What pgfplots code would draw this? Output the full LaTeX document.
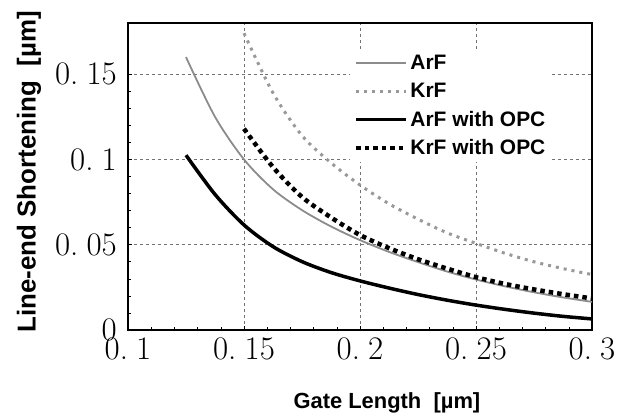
\documentclass[border=0pt]{standalone}
\usepackage{pgfplots}
\pgfplotsset{compat=1.18}
\usepackage{fontspec}
\newfontfamily\labfont{Liberation Sans}
\newfontfamily\tickfont{Latin Modern Roman}
\newcommand{\tl}[2]{\mbox{\tickfont\fontsize{33}{33}\selectfont #1.\hspace{0.25em}#2}}
\pgfplotstableread{
x y
0.125 0.160
0.1375 0.125
0.15 0.100
0.1625 0.0825
0.175 0.0703
0.1875 0.0607
0.2 0.0527
0.2125 0.0458
0.225 0.0398
0.2375 0.0343
0.25 0.0296
0.2625 0.0256
0.275 0.0221
0.2875 0.0191
0.3 0.0165
}\arf
\pgfplotstableread{
x y
0.15 0.174
0.1625 0.139
0.175 0.114
0.1875 0.098
0.2 0.085
0.2125 0.074
0.225 0.065
0.2375 0.057
0.25 0.0508
0.2625 0.045
0.275 0.040
0.2875 0.036
0.3 0.0325
}\krf
\pgfplotstableread{
x y
0.125 0.1025
0.1375 0.0795
0.15 0.0616
0.1625 0.0489
0.175 0.0401
0.1875 0.0337
0.2 0.0288
0.2125 0.0246
0.225 0.0208
0.2375 0.0175
0.25 0.0146
0.2625 0.0121
0.275 0.0099
0.2875 0.0080
0.3 0.0065
}\arfopc
\pgfplotstableread{
x y
0.15 0.118
0.1625 0.0955
0.175 0.078
0.1875 0.066
0.2 0.0557
0.2125 0.048
0.225 0.0415
0.2375 0.036
0.25 0.031
0.2625 0.027
0.275 0.0238
0.2875 0.021
0.3 0.0185
}\krfopc
\begin{document}
\begin{tikzpicture}[x=1bp,y=1bp]
\path[use as bounding box] (0,0) rectangle (622,413);
\begin{axis}[
 at={(128bp,83bp)}, anchor=south west,
 width=464bp, height=307bp, scale only axis,
 xmin=0.1, xmax=0.3, ymin=0, ymax=0.18,
 xtick={0.1,0.15,0.2,0.25,0.3},
 xticklabels={\tl{0}{1},\tl{0}{15},\tl{0}{2},\tl{0}{25},\tl{0}{3}},
 ytick={0,0.05,0.1,0.15},
 yticklabels={\mbox{\tickfont\fontsize{33}{33}\selectfont 0},\tl{0}{05},\tl{0}{1},\tl{0}{15}},
 minor x tick num=4, minor y tick num=4,
 tick pos=left, tick align=inside,
 major tick length=4bp, minor tick length=3bp,
 tick style={black, line width=0.6pt},
 xticklabel style={inner sep=2bp, yshift=-6bp},
 yticklabel style={inner sep=2bp, xshift=-9bp},
 grid=major, major grid style={black!55, dashed, line width=0.5pt},
 axis line style={line width=1.2pt},
 xlabel={Gate Length\ \ [µm]},
 ylabel={Line-end Shortening\ \ [µm]},
 xlabel style={font=\labfont\bfseries\fontsize{22}{22}\selectfont, at={(axis description cs:0.558,-0.236)}, anchor=center},
 ylabel style={font=\labfont\bfseries\fontsize{26}{26}\selectfont, at={(axis description cs:-0.2134,0.515)}, anchor=center},
 legend image code/.code={\draw[#1] (0bp,0bp) -- (50bp,0bp);},
 legend style={at={(axis description cs:0.478,0.915)}, anchor=north west, draw=none, fill=white,
   font=\labfont\bfseries\fontsize{21}{21}\selectfont, inner sep=4bp, row sep=8bp,
   nodes={inner sep=2bp}, /tikz/every even column/.append style={column sep=0bp}},
 legend cell align=left,
]
\addplot[black!45, line width=1.8bp, smooth] table[x=x,y=y]{\arf};
\addlegendentry{ArF}
\addplot[black!40, line width=3bp, dash pattern=on 3bp off 5bp, smooth] table[x=x,y=y]{\krf};
\addlegendentry{KrF}
\addplot[black, line width=3.5bp, smooth] table[x=x,y=y]{\arfopc};
\addlegendentry{ArF with OPC}
\addplot[black, line width=4.5bp, dash pattern=on 4.5bp off 4bp, smooth] table[x=x,y=y]{\krfopc};
\addlegendentry{KrF with OPC}
\end{axis}
\end{tikzpicture}
\end{document}
